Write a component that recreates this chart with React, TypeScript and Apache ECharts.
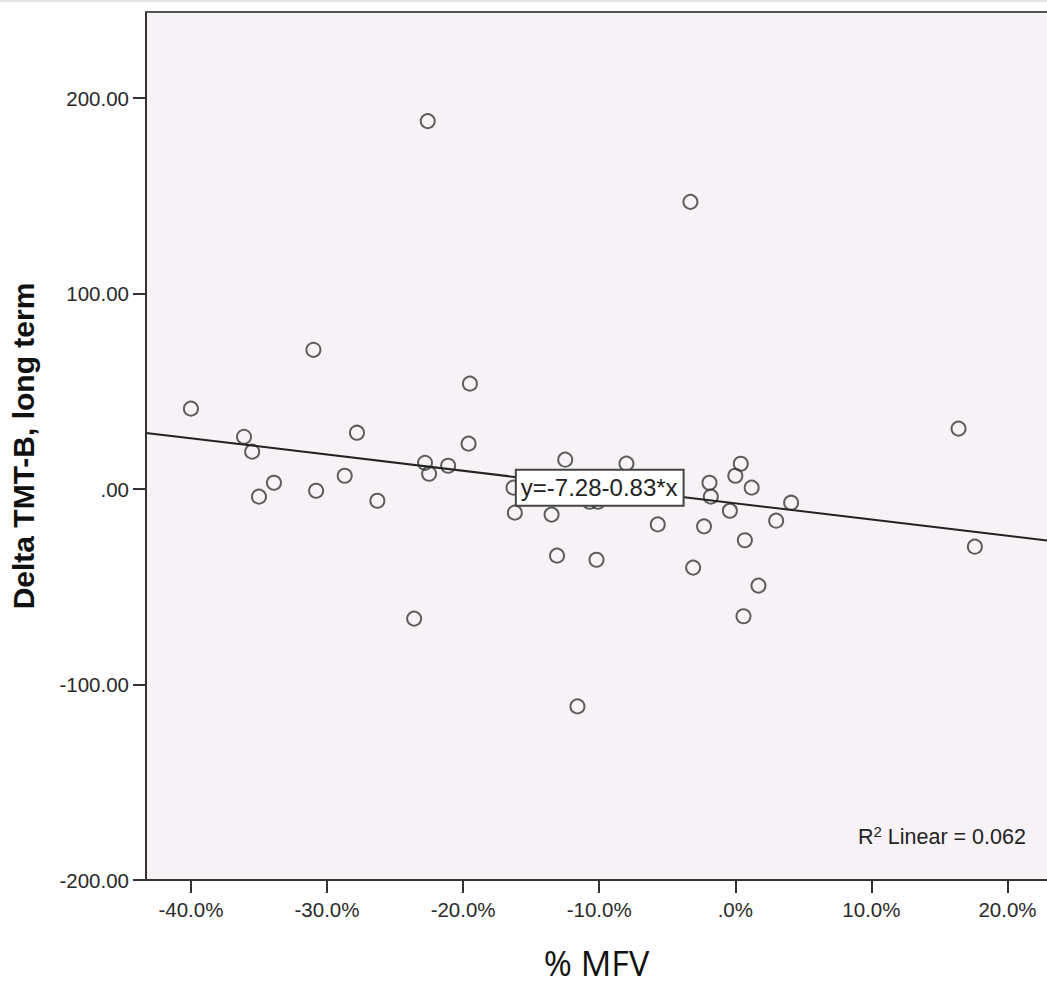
import React, { useEffect, useRef } from "react";
import * as echarts from "echarts";

// % MFV (x, percent units) and Delta TMT-B long term (y)
const mfvPct = [
  -40.0, -36.1, -35.5, -35.0, -33.9, -31.0, -30.8, -28.7, -27.8, -26.3,
  -23.6, -22.8, -22.5, -22.6, -21.1, -19.6, -19.5, -16.3, -16.2, -13.5,
  -13.1, -12.5, -11.6, -10.7, -10.1, -10.2, -8.0, -5.7, -3.3, -3.1,
  -2.3, -1.9, -1.8, -0.4, 0.0, 0.4, 0.7, 0.6, 1.2, 1.7,
  3.0, 4.1, 16.4, 17.6,
];
const deltaTmtb = [
  41.1, 26.7, 19.1, -3.9, 3.2, 71.2, -0.9, 6.8, 28.8, -6.0,
  -66.3, 13.4, 7.8, 188.2, 11.9, 23.2, 53.9, 0.7, -12.1, -13.1,
  -34.1, 15.0, -111.2, -6.5, -6.5, -36.2, 13.0, -18.1, 146.9, -40.2,
  -19.1, 3.2, -3.9, -11.1, 6.8, 12.9, -26.2, -65.1, 0.7, -49.4,
  -16.2, -7.0, 30.9, -29.5,
];

const xTicks = [-40, -30, -20, -10, 0, 10, 20];
const yTicks = [-200, -100, 0, 100, 200];
const xRange = [-43.3, 22.9];
const yRange = [-200, 244];

// Fit line shown on chart: y = -7.28 - 0.83 * x
const fitIntercept = -7.28;
const fitSlope = -0.83;
const fitLabel = "y=-7.28-0.83*x";
const fitLabelAnchor = [-16.09, 0.66];
const r2Text = "0.062";

const fmtY = (v: number) => {
  let s = v.toFixed(2);
  s = s.replace(/^0\./, ".").replace(/^-0\./, "-.");
  return s;
};
const fmtX = (v: number) => {
  let s = v.toFixed(1);
  s = s.replace(/^0\./, ".").replace(/^-0\./, "-.");
  return s + "%";
};

export default function App() {
  const ref = useRef<HTMLDivElement>(null);
  useEffect(() => {
    if (!ref.current) return;
    const chart = echarts.init(ref.current, null, { renderer: "svg" });
    const tickFont = "Liberation Sans";
    chart.setOption({
      animation: false,
      backgroundColor: "#ffffff",
      grid: {
        left: 145,
        top: 12,
        right: 0,
        bottom: 104,
        show: true,
        backgroundColor: "#f6f2f6",
        borderWidth: 0,
      },
      xAxis: [
        {
          type: "value",
          min: xRange[0],
          max: xRange[1],
          position: "bottom",
          axisLine: { show: true, onZero: false, lineStyle: { color: "#333", width: 2 } },
          axisTick: { show: true, customValues: xTicks, length: 13, lineStyle: { color: "#333", width: 2 } },
          axisLabel: {
            customValues: xTicks,
            formatter: fmtX,
            fontSize: 20.5,
            color: "#2a2a2a",
            fontFamily: tickFont,
            margin: 19,
          },
          splitLine: { show: false },
          name: "% MFV",
          nameLocation: "middle",
          nameGap: 66,
          nameTextStyle: { fontSize: 34, fontFamily: "Open Sans", color: "#111" },
        },
        {
          type: "value",
          min: xRange[0],
          max: xRange[1],
          position: "top",
          axisLine: { show: true, onZero: false, lineStyle: { color: "#555", width: 2 } },
          axisTick: { show: false },
          axisLabel: { show: false },
          splitLine: { show: false },
        },
      ],
      yAxis: {
        type: "value",
        min: yRange[0],
        max: yRange[1],
        axisLine: { show: true, onZero: false, lineStyle: { color: "#333", width: 2 } },
        axisTick: { show: true, customValues: yTicks, length: 13, lineStyle: { color: "#333", width: 2 } },
        axisLabel: {
          customValues: yTicks,
          formatter: fmtY,
          fontSize: 20.5,
          color: "#2a2a2a",
          fontFamily: tickFont,
          margin: 17,
        },
        splitLine: { show: false },
        name: "Delta TMT-B, long term",
        nameLocation: "middle",
        nameGap: 108,
        nameRotate: 90,
        nameTextStyle: { fontSize: 30, fontWeight: "bold", fontFamily: "Liberation Sans", color: "#111" },
      },
      series: [
        {
          type: "scatter",
          xAxisIndex: 0,
          z: 2,
          symbol: "circle",
          symbolSize: 14,
          itemStyle: { color: "rgba(0,0,0,0)", borderColor: "#383838", borderWidth: 2 },
          data: mfvPct.map((x, i) => [x, deltaTmtb[i]]),
        },
        {
          type: "line",
          xAxisIndex: 0,
          z: 3,
          showSymbol: false,
          symbol: "none",
          silent: true,
          lineStyle: { color: "#222", width: 2 },
          data: xRange.map((x) => [x, fitIntercept + fitSlope * x]),
          markPoint: {
            silent: true,
            symbol: "circle",
            symbolSize: 1,
            itemStyle: { color: "rgba(0,0,0,0)" },
            data: [
              {
                coord: fitLabelAnchor,
                label: {
                  show: true,
                  position: "right",
                  distance: 0,
                  formatter: fitLabel,
                  backgroundColor: "#ffffff",
                  borderColor: "#444",
                  borderWidth: 2,
                  padding: [6, 5, 4, 4],
                  fontSize: 24,
                  fontFamily: "Liberation Sans",
                  color: "#222",
                },
              },
            ],
          },
        },
      ],
      graphic: [
        {
          type: "rect",
          left: 0,
          top: 0,
          shape: { width: 1047, height: 2 },
          style: { fill: "#e6e6e6" },
          silent: true,
        },
        {
          type: "text",
          x: 858,
          y: 837,
          z: 10,
          style: {
            text: "R{sup|2} {n|Linear = " + r2Text + "}",
            fontSize: 21.5,
            fontFamily: "Liberation Sans",
            fill: "#222",
            verticalAlign: "middle",
            lineHeight: 26,
            rich: {
              n: { fontSize: 21.5, lineHeight: 26, fontFamily: "Liberation Sans", fill: "#222", verticalAlign: "middle" },
              sup: { fontSize: 15, lineHeight: 14, verticalAlign: "top", fontFamily: "Liberation Sans", fill: "#222" },
            },
          },
        },
      ],
    });
    return () => chart.dispose();
  }, []);
  return (
    <div
      ref={ref}
      style={{ position: "fixed", left: 0, top: 0, width: 1047, height: 985, background: "#fff" }}
    />
  );
}
